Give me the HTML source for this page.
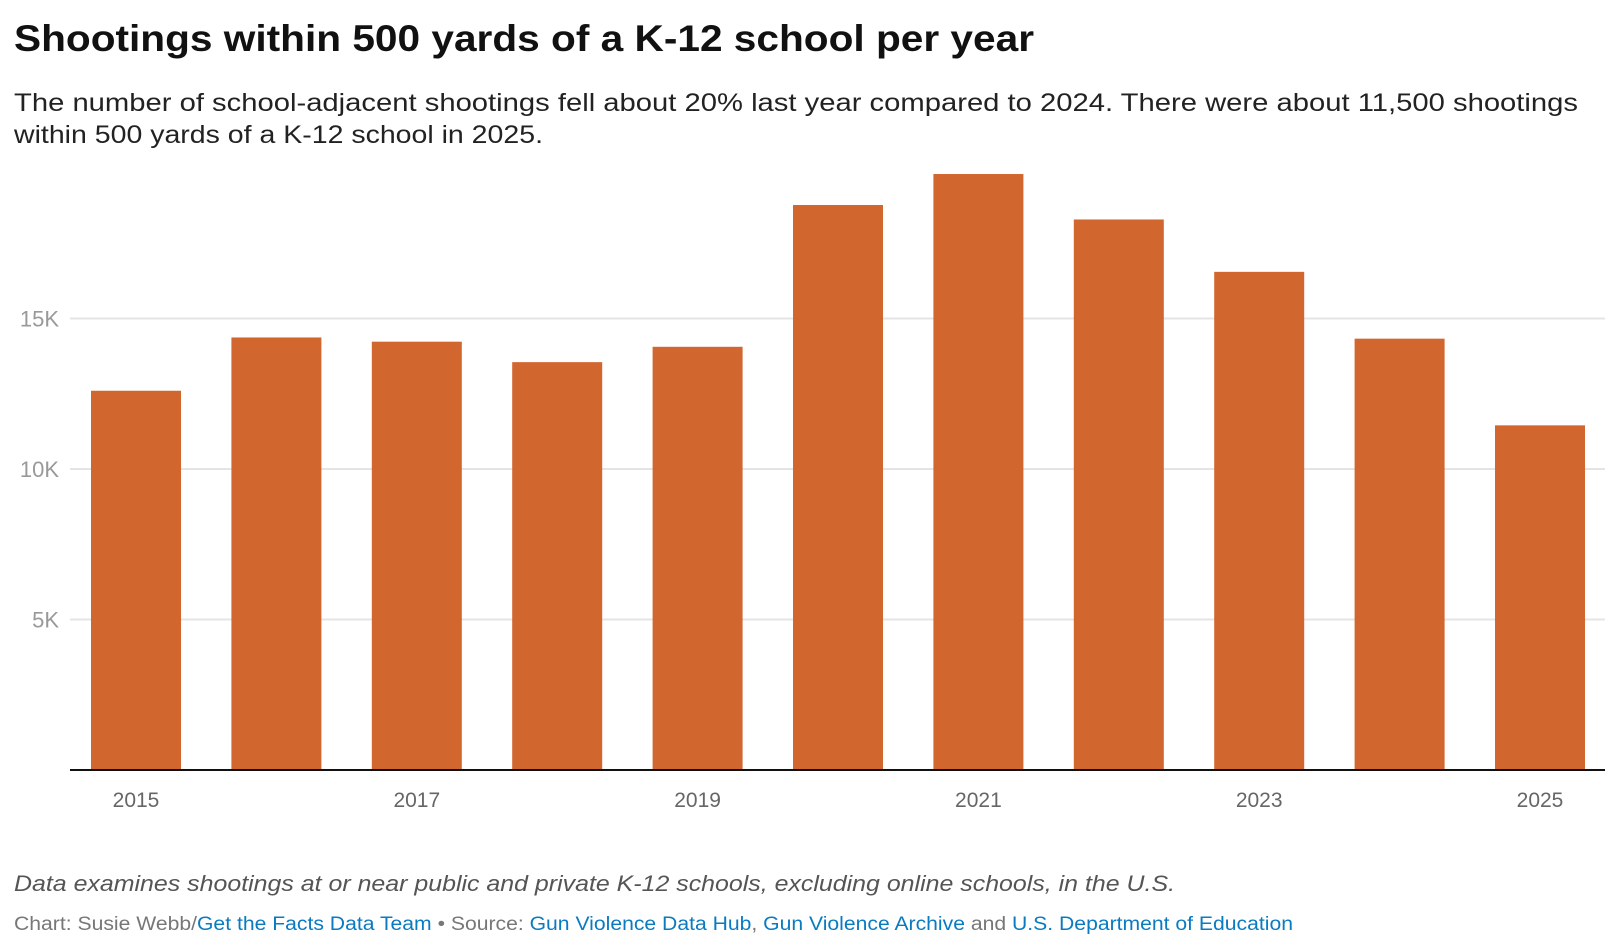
<!DOCTYPE html>
<html><head><meta charset="utf-8"><style>
html,body{margin:0;padding:0;background:#fff;}
svg{display:block;font-family:"Liberation Sans",sans-serif;}
</style></head><body>
<svg id="chart" width="1620" height="952" viewBox="0 0 1620 952">
<text x="14" y="51" font-size="37" font-weight="bold" fill="#111" textLength="1020" lengthAdjust="spacingAndGlyphs">Shootings within 500 yards of a K-12 school per year</text>
<text x="14" y="111" font-size="25" fill="#222" textLength="1564" lengthAdjust="spacingAndGlyphs">The number of school-adjacent shootings fell about 20% last year compared to 2024. There were about 11,500 shootings</text>
<text x="14" y="143" font-size="25" fill="#222" textLength="529" lengthAdjust="spacingAndGlyphs">within 500 yards of a K-12 school in 2025.</text>
<g id="grid"></g><g id="bars"></g><g id="xlabels"></g>
<line x1="70" x2="1605" y1="770" y2="770" stroke="#111" stroke-width="2"/>
<text x="14" y="891" font-size="22" font-style="italic" fill="#555" textLength="1161" lengthAdjust="spacingAndGlyphs">Data examines shootings at or near public and private K-12 schools, excluding online schools, in the U.S.</text>
<text x="14" y="930" font-size="19" fill="#777" textLength="1279" lengthAdjust="spacingAndGlyphs">Chart: Susie Webb/<tspan fill="#0a7bc1">Get the Facts Data Team</tspan> • Source: <tspan fill="#0a7bc1">Gun Violence Data Hub</tspan>, <tspan fill="#0a7bc1">Gun Violence Archive</tspan> and <tspan fill="#0a7bc1">U.S. Department of Education</tspan></text>
</svg>
<script>
const years = ["2015","2016","2017","2018","2019","2020","2021","2022","2023","2024","2025"];
const shootings = [12600,14370,14230,13550,14060,18770,19800,18290,16550,14330,11450];
const yTicks = [5000,10000,15000];
const yTickLabels = ["5K","10K","15K"];
const xLabelYears = ["2015","2017","2019","2021","2023","2025"];

const NS="http://www.w3.org/2000/svg";
const baseY=770, pxPer=150.5/5000, left=71, step=140.4, bw=90, off=20;
const y=v=>baseY-v*pxPer;
const xBand=i=>left+off+i*step;
const grid=document.getElementById('grid'), bars=document.getElementById('bars'), xl=document.getElementById('xlabels');
yTicks.forEach((t,i)=>{
  const l=document.createElementNS(NS,'line');
  l.setAttribute('x1',70);l.setAttribute('x2',1605);l.setAttribute('y1',y(t));l.setAttribute('y2',y(t));
  l.setAttribute('stroke','#e4e4e4');l.setAttribute('stroke-width',2);
  
  
  grid.appendChild(l);
  const tx=document.createElementNS(NS,'text');
  tx.setAttribute('x',59);tx.setAttribute('y',y(t)+8);tx.setAttribute('text-anchor','end');
  tx.setAttribute('font-size',22);tx.setAttribute('fill','#999');tx.textContent=yTickLabels[i];
  
  
  grid.appendChild(tx);
});
shootings.forEach((v,i)=>{
  const r=document.createElementNS(NS,'rect');
  r.setAttribute('x',xBand(i));r.setAttribute('width',bw);r.setAttribute('y',y(v));r.setAttribute('height',baseY-y(v));
  r.setAttribute('fill','#d2662f');
  
  
  bars.appendChild(r);
});
xLabelYears.forEach(yr=>{
  const i=years.indexOf(yr);
  const tx=document.createElementNS(NS,'text');
  tx.setAttribute('x',xBand(i)+bw/2);tx.setAttribute('y',807);tx.setAttribute('text-anchor','middle');
  tx.setAttribute('font-size',21);tx.setAttribute('fill','#666');tx.textContent=yr;
  
  
  xl.appendChild(tx);
});
</script>
</body></html>
